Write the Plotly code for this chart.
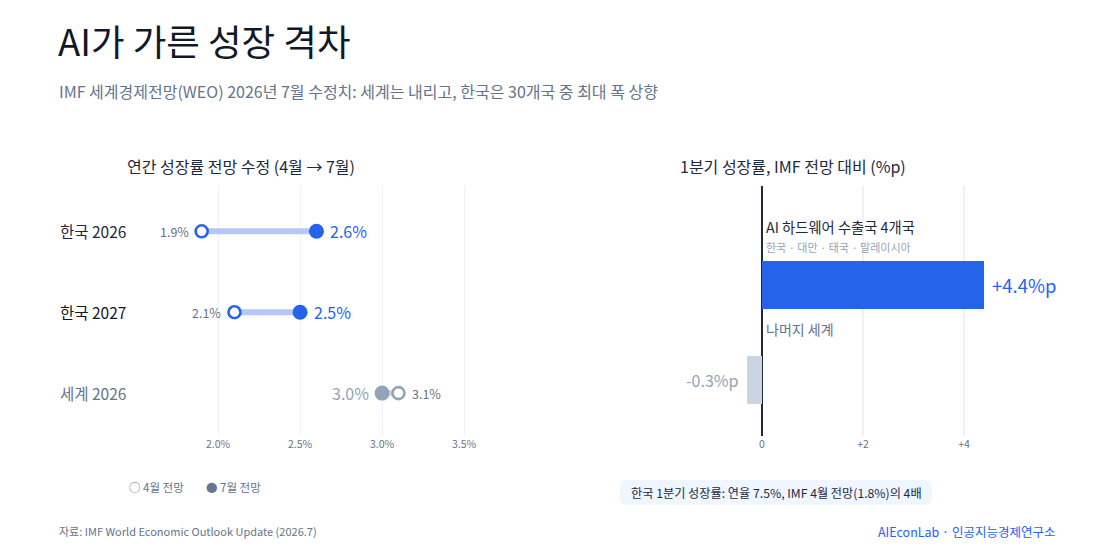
import plotly.graph_objects as go

# ---------------- data ----------------
rows = ["한국 2026", "한국 2027", "세계 2026"]
april = [1.9, 2.1, 3.1]
july = [2.6, 2.5, 3.0]
x_ticks = [2.0, 2.5, 3.0, 3.5]
x_tick_labels = ["2.0%", "2.5%", "3.0%", "3.5%"]

groups = ["AI 하드웨어 수출국 4개국", "나머지 세계"]
group_sub = ["한국 · 대만 · 태국 · 말레이시아", ""]
q1_gap = [4.4, -0.3]
r_ticks = [0, 2, 4]
r_tick_labels = ["0", "+2", "+4"]

title = "AI가 가른 성장 격차"
subtitle = "IMF 세계경제전망(WEO) 2026년 7월 수정치: 세계는 내리고, 한국은 30개국 중 최대 폭 상향"
left_title = "연간 성장률 전망 수정 (4월 → 7월)"
right_title = "1분기 성장률, IMF 전망 대비 (%p)"
note = "한국 1분기 성장률: 연율 7.5%, IMF 4월 전망(1.8%)의 4배"
source = "자료: IMF World Economic Outlook Update (2026.7)"
brand = "AIEconLab · 인공지능경제연구소"

# ---------------- style ----------------
W, H = 1110, 555
FONT = "Noto Sans CJK KR"
BLUE = "#2563eb"
BLUE_LIGHT = "#b5c8f6"
GRAY = "#94a3b8"
GRAY_LIGHT = "#d5dbe4"
TEXT = "#1e293b"
MUTED = "#64748b"
GRID = "#eef2f7"

def px(x):
    return x / W

def py(y):
    return 1 - y / H

row_colors = [BLUE, BLUE, GRAY]
line_colors = [BLUE_LIGHT, BLUE_LIGHT, GRAY_LIGHT]

fig = go.Figure()

# dumbbell connecting lines
for r, a, j, lc in zip(rows, april, july, line_colors):
    fig.add_trace(go.Scatter(
        x=[a, j], y=[r, r], mode="lines",
        line=dict(color=lc, width=6), hoverinfo="skip",
        xaxis="x", yaxis="y", showlegend=False))

# April (open) markers
fig.add_trace(go.Scatter(
    x=april, y=rows, mode="markers",
    marker=dict(size=12, color="white", line=dict(color=row_colors, width=2.6)),
    xaxis="x", yaxis="y", showlegend=False, cliponaxis=False, hoverinfo="skip"))

# July (filled) markers
fig.add_trace(go.Scatter(
    x=july, y=rows, mode="markers",
    marker=dict(size=15, color=row_colors),
    xaxis="x", yaxis="y", showlegend=False, cliponaxis=False, hoverinfo="skip"))

# right bars
fig.add_trace(go.Bar(
    x=q1_gap, y=groups, orientation="h", width=0.5,
    marker=dict(color=[BLUE if v > 0 else "#cbd5e1" for v in q1_gap], line=dict(width=0)),
    xaxis="x2", yaxis="y2", showlegend=False, hoverinfo="skip"))

annotations = []

def ann(text, x, y, size, color, xanchor="left", yanchor="middle", **kw):
    annotations.append(dict(text=text, x=x, y=y, xref=kw.pop("xref", "paper"),
                            yref=kw.pop("yref", "paper"), showarrow=False,
                            xanchor=xanchor, yanchor=yanchor,
                            font=dict(family=FONT, size=size, color=color), **kw))

# titles
ann(title, px(56), py(40), 36.5, "#111827")
ann(subtitle, px(57), py(91), 16, MUTED)
ann(left_title, px(241), py(166), 16, TEXT, xanchor="center")
ann(right_title, px(793), py(166), 16, TEXT, xanchor="center")

# left row labels
label_colors = ["#1f2937", "#111827", MUTED]
for r, c in zip(rows, label_colors):
    ann(r, px(58), r, 15.5, c, yref="y")

# dumbbell value labels
for r, a, j, c in zip(rows, april, july, row_colors):
    a_left = a < j
    ann(f"{a:.1f}%", a, r, 12.5, MUTED, xref="x", yref="y",
        xanchor="right" if a_left else "left", xshift=-11 if a_left else 12)
    ann(f"{j:.1f}%", j, r, 16, c if c == BLUE else GRAY, xref="x", yref="y",
        xanchor="left" if a_left else "right", xshift=12 if a_left else -11)

# legend
ann("○ 4월 전망", px(127), py(487), 11.5, MUTED)
ann("● 7월 전망", px(204), py(487), 11.5, MUTED)

# right labels
ann(groups[0], 0, groups[0], 14.3, TEXT, xref="x2", yref="y2", xshift=2, yshift=59)
ann(group_sub[0], 0, groups[0], 11, GRAY, xref="x2", yref="y2", xshift=2, yshift=38)
ann(groups[1], 0, groups[1], 14, MUTED, xref="x2", yref="y2", xshift=2, yshift=51)
for g, v in zip(groups, q1_gap):
    ann(f"{v:+.1f}%p", v, g, 18.5 if v > 0 else 16, BLUE if v > 0 else GRAY,
        xanchor="left" if v > 0 else "right", xref="x2", yref="y2",
        xshift=6 if v > 0 else -7)

# note box
ann(note, px(776), py(492.5), 12.2, TEXT, xanchor="center")

# footer
ann(source, px(57), py(531), 11, MUTED)
ann(brand, px(1057), py(531), 12.5, BLUE, xanchor="right")

x0, x1 = px(620), px(932)
y_top, y_bot = py(480), py(505)
rx, ry = 7 / W, 7 / H
path = (f"M {x0+rx},{y_top} L {x1-rx},{y_top} Q {x1},{y_top} {x1},{y_top-ry} "
        f"L {x1},{y_bot+ry} Q {x1},{y_bot} {x1-rx},{y_bot} L {x0+rx},{y_bot} "
        f"Q {x0},{y_bot} {x0},{y_bot+ry} L {x0},{y_top-ry} Q {x0},{y_top} {x0+rx},{y_top} Z")
shapes = [dict(type="path", xref="paper", yref="paper", path=path,
               fillcolor="#eff6ff", line=dict(width=0), layer="below")]

fig.update_layout(
    width=W, height=H, margin=dict(l=0, r=0, t=0, b=0),
    paper_bgcolor="white", plot_bgcolor="white",
    font=dict(family=FONT, color=TEXT),
    showlegend=False, bargap=0,
    annotations=annotations, shapes=shapes,
    xaxis=dict(domain=[px(150), px(520)], range=[1.585, 3.841],
               tickvals=x_ticks, ticktext=x_tick_labels,
               tickfont=dict(size=10.5, color=MUTED, family=FONT),
               showgrid=True, gridcolor=GRID, gridwidth=1, zeroline=False,
               showline=False, ticks="", anchor="y", fixedrange=True),
    yaxis=dict(domain=[py(436), py(186)], type="category",
               categoryorder="array", categoryarray=rows,
               range=[2.53, -0.56], showticklabels=False, showgrid=False,
               zeroline=False, showline=False, ticks="", anchor="x"),
    xaxis2=dict(domain=[px(670), px(1060)], range=[-1.822, 5.901],
                tickvals=r_ticks, ticktext=r_tick_labels,
                tickfont=dict(size=10.5, color=MUTED, family=FONT),
                showgrid=True, gridcolor=GRID, gridwidth=1.5,
                zeroline=True, zerolinecolor="#1e293b", zerolinewidth=2,
                showline=False, ticks="", anchor="y2"),
    yaxis2=dict(domain=[py(436), py(186)], type="category",
                categoryorder="array", categoryarray=groups,
                range=[1.589, -1.042], showticklabels=False, showgrid=False,
                zeroline=False, showline=False, ticks="", anchor="x2"),
)

fig.write_html("out.html")
